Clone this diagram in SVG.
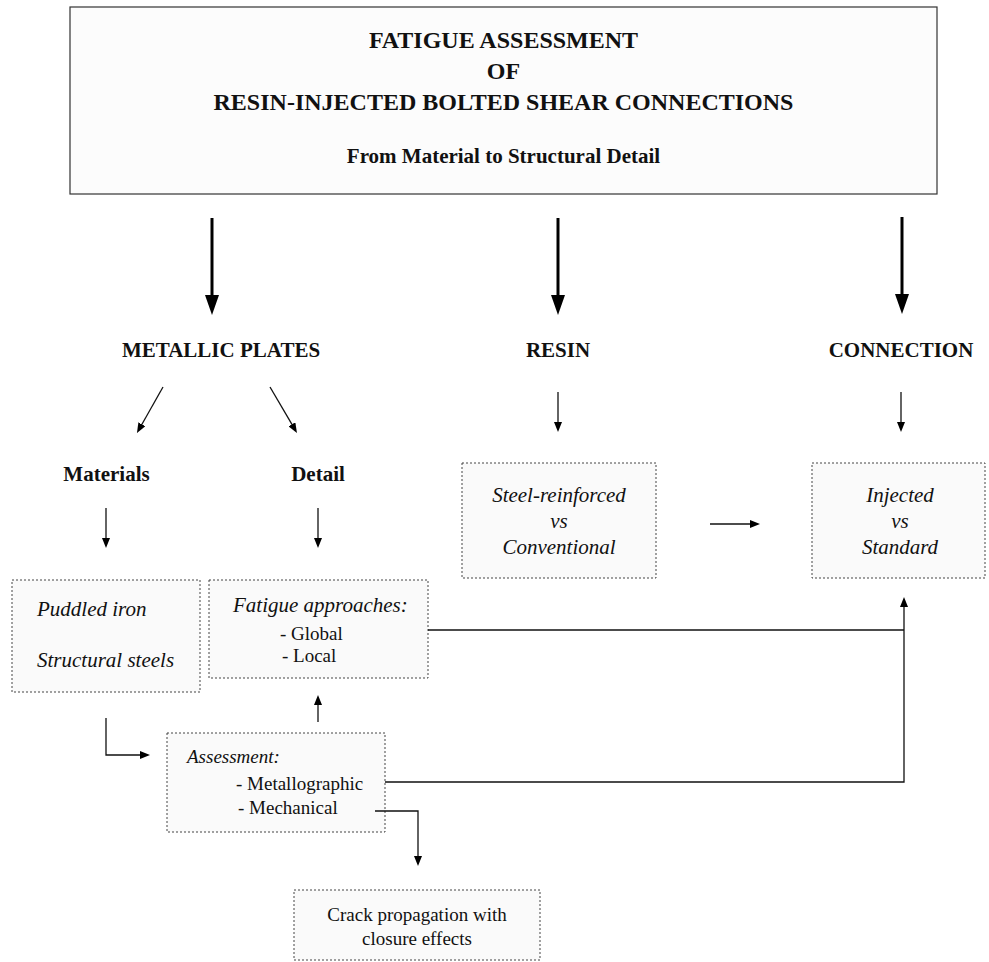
<svg xmlns="http://www.w3.org/2000/svg" width="989" height="962" viewBox="0 0 989 962">
<style>
text{font-family:"Liberation Serif","Times New Roman",serif;fill:#111}
.t{font-weight:bold;font-size:24px;text-anchor:middle}
.h{font-weight:bold;font-size:21px;text-anchor:middle}
.i{font-style:italic;font-size:21px}
.i19{font-style:italic;font-size:19px}
.r{font-size:19px}
.c{text-anchor:middle}
.box{fill:#fafafa;stroke:#444;stroke-width:1;stroke-dasharray:2 2}
.big{stroke:#000;stroke-width:3;fill:none}
.sm{stroke:#111;stroke-width:1.3;fill:none}
</style>
<defs>
<marker id="bh" viewBox="0 0 20 14" refX="2" refY="7" markerWidth="20" markerHeight="14" markerUnits="userSpaceOnUse" orient="auto"><path d="M0,0 L20,7 L0,14 z" fill="#000"/></marker>
<marker id="sh" viewBox="0 0 10 8" refX="1" refY="4" markerWidth="10" markerHeight="8" markerUnits="userSpaceOnUse" orient="auto"><path d="M0,0 L10,4 L0,8 z" fill="#000"/></marker>
</defs>
<rect width="989" height="962" fill="#fff"/>
<g id="title">
<rect x="70" y="7" width="867" height="187" fill="#fcfcfc" stroke="#333" stroke-width="1.2"/>
<text class="t" x="503.5" y="48">FATIGUE ASSESSMENT</text>
<text class="t" x="503.5" y="79">OF</text>
<text class="t" x="503.5" y="110">RESIN-INJECTED BOLTED SHEAR CONNECTIONS</text>
<text class="h" x="503.5" y="163">From Material to Structural Detail</text>
</g>
<g id="metallic"><text class="h" x="221" y="357">METALLIC PLATES</text></g>
<g id="resin"><text class="h" x="558" y="357">RESIN</text></g>
<g id="connection"><text class="h" x="901" y="357">CONNECTION</text></g>
<g id="materials"><text class="h" x="106.5" y="481">Materials</text></g>
<g id="detail"><text class="h" x="318" y="481">Detail</text></g>
<g id="materials-box">
<rect class="box" x="12" y="580" width="188" height="112"/>
<text class="i" x="37" y="616">Puddled iron</text>
<text class="i" x="37" y="667">Structural steels</text>
</g>
<g id="detail-box">
<rect class="box" x="209" y="580" width="219" height="98"/>
<text class="i" x="233" y="612">Fatigue approaches:</text>
<text class="r" x="280" y="640">- Global</text>
<text class="r" x="282" y="662">- Local</text>
</g>
<g id="resin-box">
<rect class="box" x="462" y="463" width="194" height="115"/>
<text class="i c" x="559" y="502">Steel-reinforced</text>
<text class="i c" x="559" y="528">vs</text>
<text class="i c" x="559" y="554">Conventional</text>
</g>
<g id="connection-box">
<rect class="box" x="812" y="463" width="173" height="115"/>
<text class="i c" x="900" y="502">Injected</text>
<text class="i c" x="900" y="528">vs</text>
<text class="i c" x="900" y="554">Standard</text>
</g>
<g id="assessment-box">
<rect class="box" x="167" y="733" width="218" height="99"/>
<text class="i19" x="187" y="763">Assessment:</text>
<text class="r" x="236" y="790">- Metallographic</text>
<text class="r" x="238" y="814">- Mechanical</text>
</g>
<g id="crack-box">
<rect class="box" x="294" y="890" width="246" height="70"/>
<text class="r c" x="417" y="921">Crack propagation with</text>
<text class="r c" x="417" y="945">closure effects</text>
</g>
<g id="connectors">
<path class="big" d="M212,218 V297" marker-end="url(#bh)"/>
<path class="big" d="M558,218 V297" marker-end="url(#bh)"/>
<path class="big" d="M902,217 V296" marker-end="url(#bh)"/>
<path class="sm" d="M163,387 L141.4,425.2" marker-end="url(#sh)"/>
<path class="sm" d="M270,387 L292.4,425.2" marker-end="url(#sh)"/>
<path class="sm" d="M558,392 V423" marker-end="url(#sh)"/>
<path class="sm" d="M901,392 V423" marker-end="url(#sh)"/>
<path class="sm" d="M106,508 V539" marker-end="url(#sh)"/>
<path class="sm" d="M318,508 V539" marker-end="url(#sh)"/>
<path class="sm" d="M710,524 H751" marker-end="url(#sh)"/>
<path class="sm" d="M428,630 H904"/>
<path class="sm" d="M385,782 H904 V606" marker-end="url(#sh)"/>
<path class="sm" d="M375,811 H418 V857" marker-end="url(#sh)"/>
<path class="sm" d="M106,718 V755 H141" marker-end="url(#sh)"/>
<path class="sm" d="M318,722 V704" marker-end="url(#sh)"/>
</g>
</svg>
